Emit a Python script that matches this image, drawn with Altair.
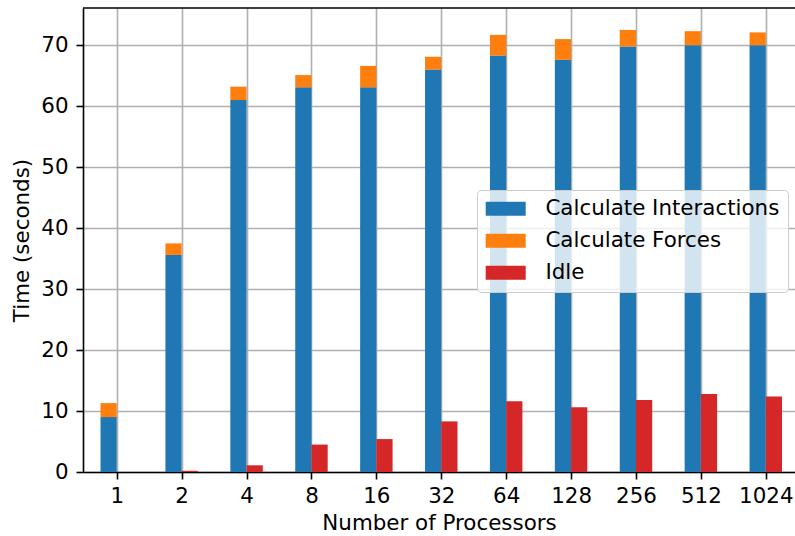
import json

import altair as alt
import pandas as pd

# Timing breakdown per processor count
processors = ["1", "2", "4", "8", "16", "32", "64", "128", "256", "512", "1024"]
interactions = [9.0, 35.6, 61.0, 63.1, 63.1, 66.0, 68.3, 67.6, 69.8, 70.0, 70.0]
forces = [2.3, 1.9, 2.2, 2.0, 3.5, 2.1, 3.4, 3.4, 2.7, 2.3, 2.1]
idle = [0.0, 0.2, 1.1, 4.5, 5.4, 8.3, 11.6, 10.6, 11.8, 12.8, 12.4]

series_names = ["Calculate Interactions", "Calculate Forces", "Idle"]
series_colors = ["#1f77b4", "#ff7f0e", "#d62728"]

BAR_W = 0.25
X_DOMAIN = [-0.52, 10.45]
Y_DOMAIN = [0, 76.1]
FONT = "DejaVu Sans"
FS = 21.4

rows = []
for i, p in enumerate(processors):
    rows.append({"idx": i, "series": series_names[0], "lo": 0.0, "hi": interactions[i]})
    rows.append({"idx": i, "series": series_names[1], "lo": interactions[i],
                 "hi": interactions[i] + forces[i]})
    rows.append({"idx": i, "series": series_names[2], "lo": 0.0, "hi": idle[i]})
df = pd.DataFrame(rows)

x_scale = alt.Scale(domain=X_DOMAIN, nice=False, zero=False)
y_scale = alt.Scale(domain=Y_DOMAIN, nice=False)

label_expr = json.dumps(processors) + "[datum.value]"

bars = (
    alt.Chart(df)
    .transform_calculate(
        x0=f"datum.series == 'Idle' ? datum.idx : datum.idx - {BAR_W}",
        x1=f"datum.series == 'Idle' ? datum.idx + {BAR_W} : datum.idx",
    )
    .mark_rect()
    .encode(
        x=alt.X(
            "x0:Q",
            scale=x_scale,
            axis=alt.Axis(
                values=list(range(len(processors))),
                labelExpr=label_expr,
                labelAngle=0,
                labelFlush=False,
                labelPadding=6,
                titlePadding=6,
                title="Number of Processors",
            ),
        ),
        x2="x1:Q",
        y=alt.Y(
            "lo:Q",
            scale=y_scale,
            axis=alt.Axis(
                values=list(range(0, 71, 10)),
                labelPadding=8,
                titlePadding=8,
                title="Time (seconds)",
            ),
        ),
        y2="hi:Q",
        color=alt.Color(
            "series:N",
            scale=alt.Scale(domain=series_names, range=series_colors),
            sort=series_names,
            title=None,
            legend=alt.Legend(
                orient="none",
                legendX=394,
                legendY=182,
                zindex=2,
                symbolType="M-1,-0.7H3V0.7H-1Z",
                symbolSize=400,
                symbolStrokeWidth=0,
                symbolOpacity=1,
                labelOffset=39,
                labelFont=FONT,
                labelFontSize=FS,
                labelColor="black",
                rowPadding=9,
                padding=8,
                fillColor="rgba(255,255,255,0.8)",
                strokeColor="#cccccc",
                cornerRadius=4,
                labelLimit=400,
            ),
        ),
    )
)

# top spine
top_spine = (
    alt.Chart(pd.DataFrame({"k": [0]}))
    .mark_rule(color="black", strokeWidth=1.6)
    .encode(
        x=alt.datum(X_DOMAIN[0], scale=x_scale),
        x2=alt.datum(X_DOMAIN[1]),
        y=alt.datum(Y_DOMAIN[1], scale=y_scale),
    )
)

chart = (
    alt.layer(bars, top_spine)
    .properties(
        width=712,
        height=464,
        autosize=alt.AutoSizeParams(type="none"),
        padding={"left": 83, "top": 8, "right": 0, "bottom": 64},
        background="white",
    )
    .configure_view(stroke="transparent")
    .configure_axis(
        labelFont=FONT,
        labelFontSize=FS,
        labelColor="black",
        titleFont=FONT,
        titleFontSize=FS,
        titleColor="black",
        titleFontWeight="normal",
        tickColor="black",
        tickSize=7,
        tickWidth=1.6,
        domainColor="black",
        domainWidth=1.6,
        grid=True,
        gridColor="#b0b0b0",
        gridWidth=1.6,
        zindex=1,
    )
)

chart.save("out.html", embed_options={"renderer": "svg", "actions": False})
